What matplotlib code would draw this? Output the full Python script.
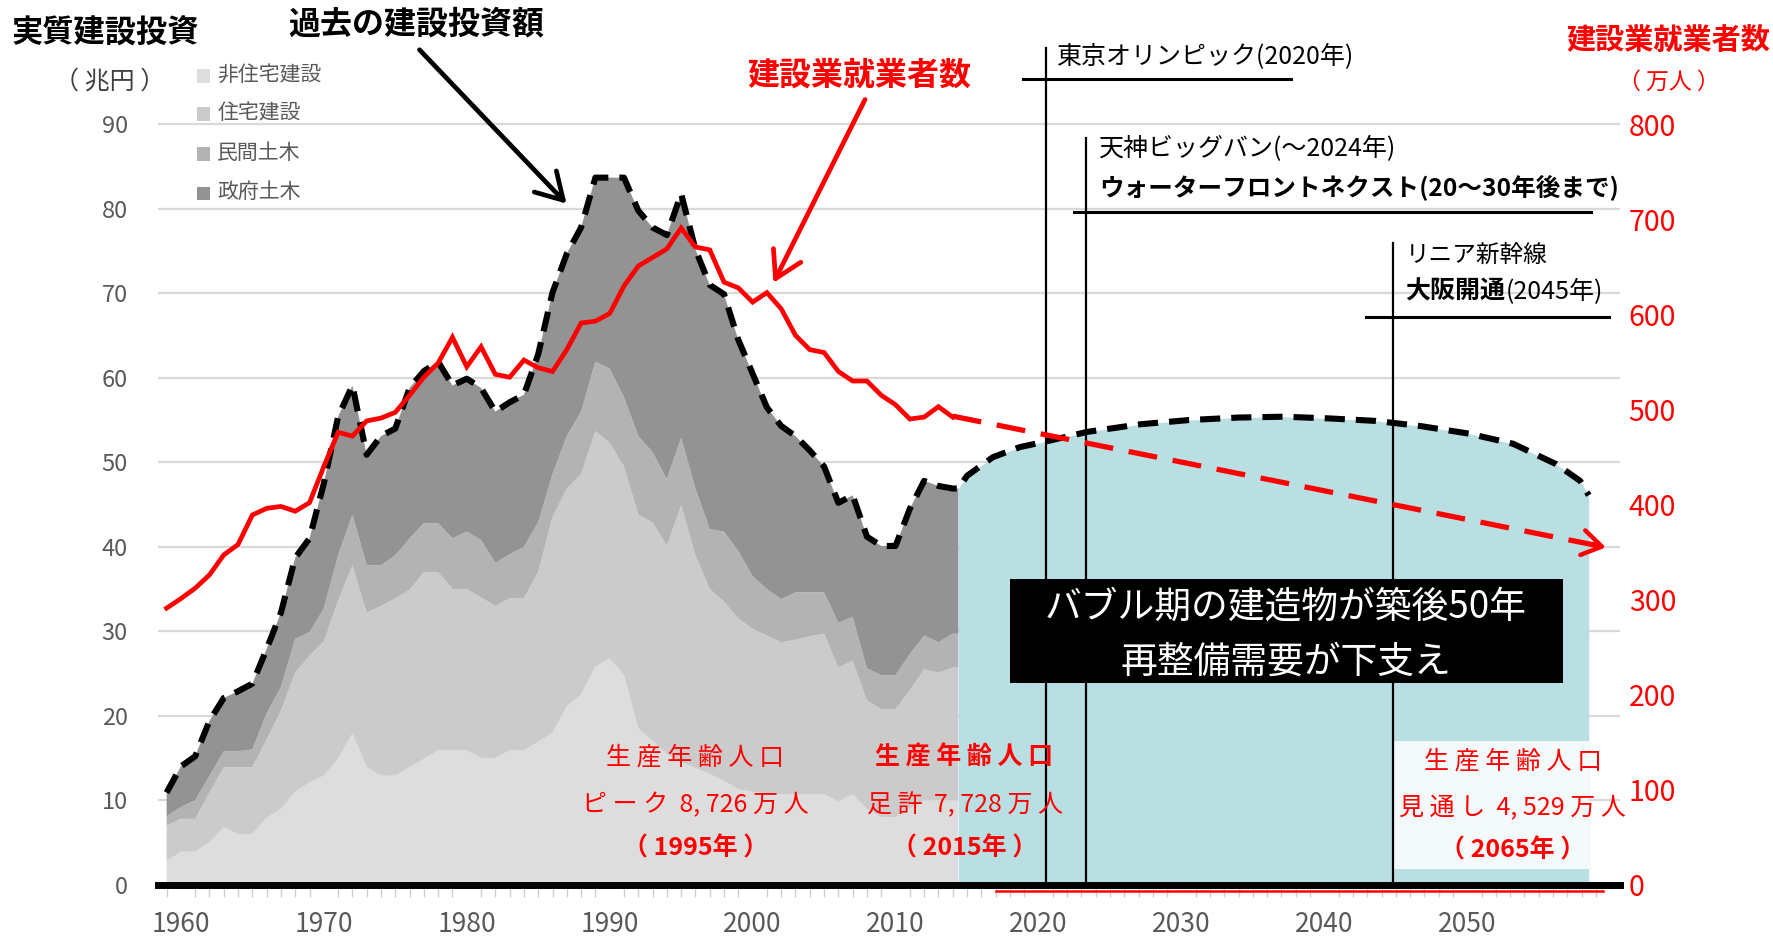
import numpy as np
import matplotlib
matplotlib.use('Agg')
import matplotlib.pyplot as plt
from matplotlib.patches import Rectangle
from matplotlib.lines import Line2D

plt.rcParams['font.family'] = ['Noto Sans CJK JP', 'DejaVu Sans']

# ---------------- data ----------------
years = np.arange(1959, 2015)
# 実質建設投資 (兆円) – stacked components
non_residential = [2.8, 3.9, 3.9, 5.0, 6.8, 6.0, 6.0, 7.9, 9.0, 11.0,
                   12.1, 12.9, 14.9, 17.9, 13.9, 12.9, 12.9, 13.9, 14.9, 15.9,
                   15.9, 15.9, 15.0, 15.0, 15.9, 15.9, 16.9, 18.0, 21.1, 22.5,
                   25.8, 26.8, 24.8, 18.5, 17.0, 15.5, 14.5, 13.8, 13.1, 12.3,
                   11.3, 11.0, 10.8, 10.7, 10.7, 10.7, 10.7, 9.9, 10.7, 9.0,
                   8.0, 8.0, 9.0, 10.0, 10.0, 10.0]
residential = [4.2, 3.9, 3.9, 5.9, 7.1, 7.9, 7.9, 9.3, 11.6, 14.1,
               15.0, 15.9, 18.7, 19.9, 18.3, 20.1, 21.0, 21.0, 22.1, 21.1,
               19.1, 19.1, 19.0, 18.0, 18.0, 18.0, 20.1, 25.5, 25.8, 26.1,
               27.9, 25.5, 24.7, 25.3, 25.9, 24.6, 30.4, 25.2, 21.9, 21.2,
               20.2, 19.3, 18.7, 18.0, 18.3, 18.7, 19.0, 15.8, 15.8, 12.8,
               12.8, 12.8, 14.0, 15.5, 15.1, 15.7]
private_civil = [1.1, 1.4, 2.2, 2.0, 1.9, 1.9, 2.1, 3.1, 2.8, 4.0,
                 2.8, 3.9, 5.4, 6.0, 5.6, 4.8, 5.1, 6.1, 5.8, 5.8,
                 6.0, 6.8, 6.8, 5.1, 5.2, 6.1, 5.9, 5.1, 6.2, 7.4,
                 8.2, 8.8, 8.2, 9.3, 8.3, 7.9, 8.0, 7.9, 7.1, 8.3,
                 8.0, 6.2, 5.5, 5.1, 5.6, 5.2, 4.9, 5.3, 5.2, 3.8,
                 4.0, 4.0, 4.3, 4.0, 3.6, 4.0]
government_civil = [2.8, 4.8, 5.2, 6.5, 6.3, 7.1, 7.8, 7.6, 8.8, 9.6,
                    11.1, 14.8, 16.4, 15.3, 13.1, 15.3, 15.0, 17.8, 18.0, 19.1,
                    18.1, 18.1, 18.0, 17.9, 18.0, 18.0, 19.9, 21.5, 21.6, 21.8,
                    21.8, 22.6, 26.0, 26.7, 26.6, 28.9, 28.9, 28.3, 28.9, 28.1,
                    25.0, 24.0, 21.5, 20.5, 18.5, 16.8, 14.9, 14.2, 14.4, 15.6,
                    15.3, 15.3, 17.2, 18.3, 18.5, 17.2]
# 建設業就業者数 (万人)
workers = [291, 301, 312, 326, 347, 358, 389, 396, 398, 393,
           402, 440, 476, 472, 488, 491, 497, 515, 534, 549,
           576, 545, 566, 537, 534, 552, 544, 540, 563, 591,
           593, 601, 630, 651, 660, 669, 691, 671, 668, 634,
           628, 613, 623, 606, 578, 563, 560, 540, 530, 530,
           515, 505, 490, 492, 503, 492]

# forecast
fc_years = [2014.4, 2015.0, 2016.8, 2018.7, 2020.6, 2023.4, 2027.1, 2030.5, 2034.0,
            2037.1, 2040.3, 2043.6, 2046.7, 2050.1, 2053.2, 2056.2, 2057.9, 2058.5]
fc_invest = [46.9, 48.4, 50.6, 51.8, 52.5, 53.6, 54.5, 55.0, 55.3,
             55.4, 55.2, 54.9, 54.3, 53.4, 52.2, 49.8, 47.8, 46.1]
fc_worker_years = [2014.0, 2059.7]
fc_workers = [493, 355]

layer_labels = ['非住宅建設', '住宅建設', '民間土木', '政府土木']
layer_colors = ['#dddddd', '#cbcbcb', '#b3b3b3', '#939393']
x_ticks = list(range(1960, 2051, 10))
left_ticks = list(range(0, 91, 10))
right_ticks = list(range(0, 801, 100))

# ---------------- figure ----------------
W, H = 1773, 939
fig = plt.figure(figsize=(W / 100, H / 100), dpi=100)
RW, RH = 1568.0, 830.0          # layout grid of reference (shrunk)
AX_L, AX_R, AX_B = 140.0, 1433.0, 782.0


def F(x, y):
    return (x / RW, 1 - y / RH)


def A(x, y):
    return ((x - AX_L) / (AX_R - AX_L), (AX_B - y) / AX_B)


ax = fig.add_axes([AX_L / RW, 1 - AX_B / RH, (AX_R - AX_L) / RW, AX_B / RH])
YTOP = AX_B / 7.467
ax.set_ylim(0, YTOP)
ax.set_xlim(1958.42, 2060.71)
for s in ax.spines.values():
    s.set_visible(False)

ax2 = ax.twinx()
ax2.set_ylim(0, YTOP * 800 / 90)
ax2.set_xlim(ax.get_xlim())
for s in ax2.spines.values():
    s.set_visible(False)

# grid & ticks
ax.set_yticks(left_ticks)
ax.tick_params(axis='y', length=0, pad=22, labelsize=17, labelcolor='#595959')
ax.grid(axis='y', color='#d9d9d9', lw=1.6)
ax.set_axisbelow(True)
ax.set_xticks(x_ticks)
ax.set_xticks(np.arange(1959, 2060, 1), minor=True)
ax.tick_params(axis='x', which='major', length=0, pad=19, labelsize=19, labelcolor='#595959')
ax.tick_params(axis='x', which='minor', length=8.5, width=1, color='#cccccc', direction='out')

ax2.set_yticks(right_ticks)
ax2.tick_params(axis='y', length=0, pad=6, labelsize=20.5, labelcolor='#ff0000')

# stacked history (extended to the start of the forecast block)
x_ext = np.append(years, fc_years[0])
layers = [np.append(v, v[-1]) for v in (non_residential, residential, private_civil, government_civil)]
ax.stackplot(x_ext, *layers, colors=layer_colors, lw=0, zorder=1)
total = np.sum([non_residential, residential, private_civil, government_civil], axis=0)

# forecast block
ax.fill_between(fc_years, 0, fc_invest, color='#b9dfe3', lw=0, zorder=1.5)
ax.add_patch(Rectangle((2044.85, 1.9), fc_years[-1] - 2044.85, 15.1,
                       color='#f4fafb', lw=0, zorder=1.6))

# dashed investment envelope
ax.plot(np.concatenate([years, fc_years]), np.concatenate([total, fc_invest]),
        color='black', lw=4.4, dashes=(3.3, 1.8), zorder=3, solid_capstyle='butt')

# x axis bar
ax.plot([2017.0, 2059.5], [-0.75, -0.75], color='#ff0000', lw=1.8, clip_on=False, zorder=4)
ax.axhline(0, color='black', lw=5, clip_on=False, zorder=5)

# event lines
ev_kw = dict(color='black', transform=ax2.transAxes, clip_on=False, zorder=2)
for (x, ytop) in [(925, 42), (960, 122), (1232, 215)]:
    ax2.add_line(Line2D([A(x, ytop)[0]] * 2, [A(x, ytop)[1], 0], lw=1.6, **ev_kw))
for (x1, x2, y) in [(905, 1142, 70), (950, 1407, 187), (1208, 1423, 280)]:
    ax2.add_line(Line2D([A(x1, y)[0], A(x2, y)[0]], [A(x1, y)[1]] * 2, lw=2.2, **ev_kw))

# workers
ax2.plot(years, workers, color='#ff0000', lw=3.4, zorder=6, solid_joinstyle='miter')
ax2.plot(fc_worker_years, fc_workers, color='#ff0000', lw=3.8, dashes=(5.5, 3.0), zorder=6)
dx = 1.0
slope = (fc_workers[1] - fc_workers[0]) / (fc_worker_years[1] - fc_worker_years[0])
ax2.annotate('', xy=(fc_worker_years[1], fc_workers[1]),
             xytext=(fc_worker_years[1] - dx, fc_workers[1] - slope * dx),
             arrowprops=dict(arrowstyle='->,head_length=0.7,head_width=0.45', lw=3.2,
                             color='#ff0000', shrinkA=0, shrinkB=0, mutation_scale=20),
             zorder=6)

# ---------------- annotations ----------------
fig.text(*F(10, 30), '実質建設投資', fontsize=22.5, weight='bold', ha='left', va='center')
fig.text(*F(97, 72), '（ 兆円 ）', fontsize=18, color='#404040', ha='center', va='center')
for i, (lab, col) in enumerate(zip(layer_labels, layer_colors)):
    yy = [67, 101, 136, 171][i]
    fig.add_artist(Rectangle(F(174, yy + 6), 12 / RW, 12 / RH, color=col,
                             transform=fig.transFigure, lw=0))
    fig.text(*F(192, yy - 1), lab, fontsize=15, color='#595959', ha='left', va='center')

fig.text(*F(368, 22), '過去の建設投資額', fontsize=23, weight='bold', ha='center', va='center')
ax2.annotate('', xy=A(501, 180), xytext=A(371, 44), xycoords='axes fraction',
             textcoords='axes fraction',
             arrowprops=dict(arrowstyle='->,head_length=0.85,head_width=0.5', lw=3.4,
                             color='black', shrinkA=0, shrinkB=0, mutation_scale=22),
             annotation_clip=False)
fig.text(*F(760, 67), '建設業就業者数', fontsize=23, weight='bold', color='#ff0000',
         ha='center', va='center')
ax2.annotate('', xy=A(684, 250), xytext=A(765, 88), xycoords='axes fraction',
             textcoords='axes fraction',
             arrowprops=dict(arrowstyle='->,head_length=0.85,head_width=0.5', lw=3.4,
                             color='#ff0000', shrinkA=0, shrinkB=0, mutation_scale=22),
             annotation_clip=False)
fig.text(*F(1475, 35), '建設業就業者数', fontsize=21, weight='bold', color='#ff0000',
         ha='center', va='center')
fig.text(*F(1476, 73), '（ 万人 ）', fontsize=16.5, color='#ff0000', ha='center', va='center')

fig.text(*F(935, 50), '東京オリンピック(2020年)', fontsize=18, ha='left', va='center')
fig.text(*F(972, 132), '天神ビッグバン(～2024年)', fontsize=18, ha='left', va='center')
fig.text(*F(972, 165), 'ウォーターフロントネクスト(20～30年後まで)', fontsize=17.7,
         weight='bold', ha='left', va='center')
fig.text(*F(1243, 226), 'リニア新幹線', fontsize=17, ha='left', va='center')
t_osaka = fig.text(*F(1243, 258), '大阪開通', fontsize=18, weight='bold', ha='left', va='center')
ax2.annotate('(2045年)', xy=(1, 0.5), xycoords=t_osaka, fontsize=18, ha='left', va='center',
             annotation_clip=False)

# black box
fig.add_artist(Rectangle(F(893, 604), (1382 - 893) / RW, (604 - 512) / RH,
                         color='black', transform=fig.transFigure, lw=0, zorder=5))
fig.text(*F(1137, 537), 'バブル期の建造物が築後50年', fontsize=26.5, color='white',
         ha='center', va='center', zorder=6)
fig.text(*F(1137, 585), '再整備需要が下支え', fontsize=26.5, color='white',
         ha='center', va='center', zorder=6)

# working-age population notes
red = '#ff0000'
notes = [
    (615, [670, 712, 750], ['生 産 年 齢 人 口', 'ピ ー ク  8, 726 万 人', '（ 1995年 ）'],
     ['normal', 'normal', 'bold']),
    (853, [670, 712, 750], ['生 産 年 齢 人 口', '足 許  7, 728 万 人', '（ 2015年 ）'],
     ['bold', 'normal', 'bold']),
    (1338, [673, 714, 752], ['生 産 年 齢 人 口', '見 通 し  4, 529 万 人', '（ 2065年 ）'],
     ['normal', 'normal', 'bold']),
]
for cx, ys, lines, weights in notes:
    for yy, s, w in zip(ys, lines, weights):
        fig.text(*F(cx, yy), s, fontsize=18, color=red, weight=w, ha='center', va='center',
                 zorder=6)

fig.savefig('out.png', dpi=100)
